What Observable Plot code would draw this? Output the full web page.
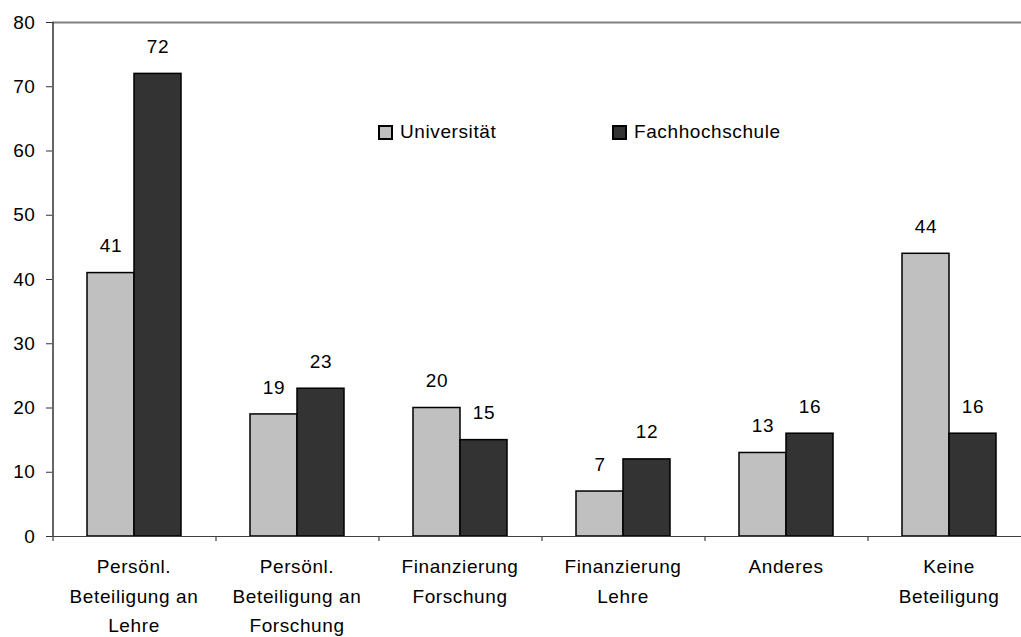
<!DOCTYPE html>
<html>
<head>
<meta charset="utf-8">
<script src="https://cdn.jsdelivr.net/npm/d3@7"></script>
<script src="https://cdn.jsdelivr.net/npm/@observablehq/plot@0.6"></script>
<style>
  html, body { margin: 0; padding: 0; background: white; }
  #wrap { position: relative; width: 1021px; height: 637px; overflow: hidden; font-family: 'Liberation Sans', Arial, sans-serif; }
  .leg { position: absolute; display: flex; align-items: center; font-size: 19px; color: black; letter-spacing: 0.6px; }
  .sw { width: 11px; height: 11px; border: 2px solid black; margin-right: 7px; }
</style>
</head>
<body>
<div id="wrap"></div>
<script>
const categories = [
  "Persönl. Beteiligung an Lehre",
  "Persönl. Beteiligung an Forschung",
  "Finanzierung Forschung",
  "Finanzierung Lehre",
  "Anderes",
  "Keine Beteiligung"
];
const tickLabels = [
  "Persönl.\nBeteiligung an\nLehre",
  "Persönl.\nBeteiligung an\nForschung",
  "Finanzierung\nForschung",
  "Finanzierung\nLehre",
  "Anderes",
  "Keine\nBeteiligung"
];
const series = ["Universität", "Fachhochschule"];
const universitaet = [41, 19, 20, 7, 13, 44];
const fachhochschule = [72, 23, 15, 12, 16, 16];
const yTicks = [0, 10, 20, 30, 40, 50, 60, 70, 80];
const colors = ["#c0c0c0", "#333333"];

const rows = [];
categories.forEach((c, i) => {
  rows.push({cat: c, series: series[0], value: universitaet[i]});
  rows.push({cat: c, series: series[1], value: fachhochschule[i]});
});

const chart = Plot.plot({
  width: 1021,
  height: 637,
  marginLeft: 51,
  marginRight: -10,
  marginTop: 22,
  marginBottom: 101,
  style: {fontFamily: "'Liberation Sans', Arial, sans-serif", fontSize: "19px", color: "black", background: "white", letterSpacing: "0.6px"},
  fx: {domain: categories, padding: 0, axis: null},
  x: {domain: series, paddingInner: 0, paddingOuter: 0.73, axis: null},
  y: {domain: [0, 80], axis: null},
  color: {domain: series, range: colors},
  marks: [
    Plot.ruleY([80], {stroke: "#808080", strokeWidth: 2}),
    Plot.barY(rows, {fx: "cat", x: "series", y: "value", fill: "series", stroke: "black", strokeWidth: 1.5, inset: 0}),
    Plot.ruleY([0], {stroke: "#404040", strokeWidth: 1.2}),
    Plot.ruleX(categories, {fx: d => d, x: () => series[0], dx: -58, y1: 0, y2: 0, insetBottom: -5, stroke: "#404040", strokeWidth: 1.2}),
    Plot.ruleX([categories[0]], {fx: d => d, x: () => series[0], dx: -58, y1: 0, y2: 80, stroke: "#333", strokeWidth: 1.5}),
    Plot.text(rows, {fx: "cat", x: "series", y: "value", text: d => String(d.value), dy: -27, fill: "black", fontSize: 19}),
    Plot.axisY({ticks: yTicks, tickSize: 6, tickPadding: 11, label: null, fontSize: 19, stroke: "#333", tickFormat: d => String(d)}),
    Plot.axisFx({anchor: "bottom", tickSize: 0, tickPadding: 16, label: null, fontSize: 19, lineHeight: 1.55, tickFormat: d => tickLabels[categories.indexOf(d)]})
  ]
});

const wrap = document.getElementById("wrap");
wrap.appendChild(chart);

const legendPos = [{left: 378, top: 121}, {left: 612, top: 121}];
series.forEach((s, i) => {
  const item = document.createElement("div");
  item.className = "leg";
  item.style.left = legendPos[i].left + "px";
  item.style.top = legendPos[i].top + "px";
  const sw = document.createElement("span");
  sw.className = "sw";
  sw.style.background = colors[i];
  const t = document.createElement("span");
  t.textContent = s;
  item.appendChild(sw);
  item.appendChild(t);
  wrap.appendChild(item);
});
</script>
</body>
</html>
